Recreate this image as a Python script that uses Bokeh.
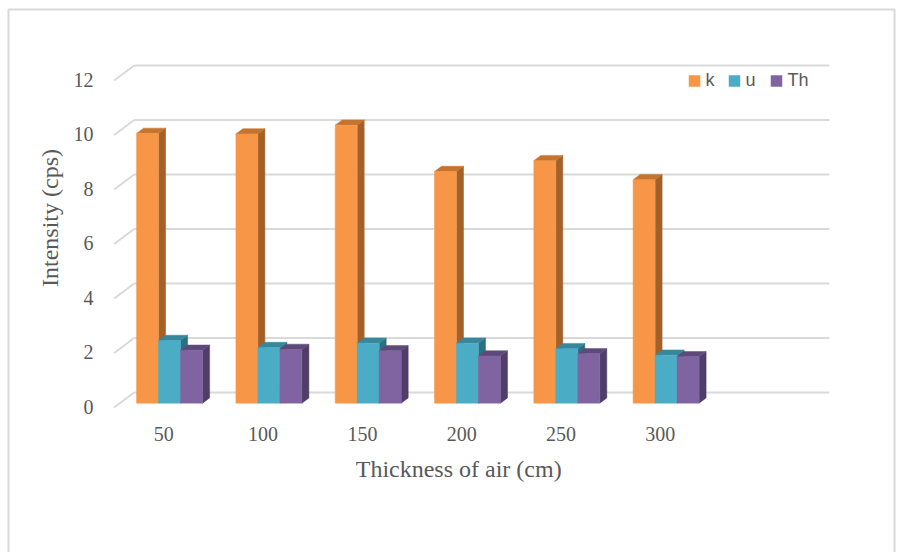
import math
from bokeh.plotting import figure
from bokeh.models import Range1d
from bokeh.embed import file_html
from bokeh.resources import INLINE
from bokeh.core.properties import value

# ---------------- data ----------------
categories = ["50", "100", "150", "200", "250", "300"]
k_vals = [9.9, 9.88, 10.2, 8.5, 8.9, 8.2]
u_vals = [2.3, 2.04, 2.2, 2.2, 2.0, 1.76]
th_vals = [1.94, 1.97, 1.92, 1.73, 1.81, 1.7]
series_names = ["k", "u", "Th"]
y_ticks = [0, 2, 4, 6, 8, 10, 12]
x_title = "Thickness  of air (cm)"
y_title = "Intensity (cps)"
n_slots = 7  # category slots on the floor (the last one is empty)

# ---------------- layout / style ----------------
W, H = 897, 552
PX_X = 99.3     # pixels per category slot
X0_PX = 163.3   # pixel of the first category centre (front plane)
PX_Y = 27.25    # pixels per unit of intensity
Y0_PX = 407.0   # pixel (from top) of zero on the front plane
TXT_SHIFT = 7.5  # text baseline correction (px)

def dx(px):  # horizontal pixel -> data x
    return (px - X0_PX) / PX_X

def dy(py):  # vertical pixel (from top) -> data y
    return (Y0_PX - py) / PX_Y

DEPTH_X = 20 / PX_X
DEPTH_Y = 15 / PX_Y
F0, F1 = 0.29, 0.64         # bar front/back depth fractions
BW = 22 / PX_X              # bar width

fronts = ["#F79646", "#4BACC6", "#8064A2"]
tops = ["#C5742F", "#37879C", "#5E4A7A"]
sides = ["#A2612A", "#2C6F82", "#4F3E68"]
grid_color = "#D9D9D9"
text_color = "#595959"
serif = value("Liberation Serif")
sans = value("Liberation Sans")

p = figure(width=W, height=H, output_backend="svg", toolbar_location=None,
           x_axis_type=None, y_axis_type=None, min_border=0,
           x_range=Range1d(dx(0), dx(W)), y_range=Range1d(dy(H), dy(0)))
p.outline_line_color = None
p.background_fill_color = "white"
p.border_fill_color = "white"

# outer chart border (left, top, right)
p.line([dx(8), dx(8), dx(894), dx(894)], [dy(570), dy(9), dy(9), dy(570)],
       line_color=grid_color, line_width=2)

# back-wall gridlines and left-wall diagonal ticks
left_front = -0.5
right_front = n_slots - 0.5
p.segment(x0=[left_front + DEPTH_X] * len(y_ticks), y0=[t + DEPTH_Y for t in y_ticks],
          x1=[right_front + DEPTH_X] * len(y_ticks), y1=[t + DEPTH_Y for t in y_ticks],
          line_color=grid_color, line_width=2)
p.segment(x0=[left_front] * len(y_ticks), y0=y_ticks,
          x1=[left_front + DEPTH_X] * len(y_ticks), y1=[t + DEPTH_Y for t in y_ticks],
          line_color=grid_color, line_width=2)

# 3-D bars
bdx = (F1 - F0) * DEPTH_X
bdy = (F1 - F0) * DEPTH_Y
for s, vals in enumerate([k_vals, u_vals, th_vals]):
    lefts = [i + (s - 1.5) * BW + F0 * DEPTH_X for i in range(len(vals))]
    rights = [l + BW for l in lefts]
    base = F0 * DEPTH_Y
    topy = [v + base for v in vals]
    side_xs = [[r, r + bdx, r + bdx, r] for r in rights]
    side_ys = [[base, base + bdy, t + bdy, t] for t in topy]
    top_xs = [[l, r, r + bdx, l + bdx] for l, r in zip(lefts, rights)]
    top_ys = [[t, t, t + bdy, t + bdy] for t in topy]
    p.patches(side_xs, side_ys, fill_color=sides[s], line_color=sides[s], line_width=0.5)
    p.patches(top_xs, top_ys, fill_color=tops[s], line_color=tops[s], line_width=0.5)
    p.quad(left=lefts, right=rights, bottom=[base] * len(vals), top=topy,
           fill_color=fronts[s], line_color=fronts[s], line_width=0.5)

# y tick labels
p.text(x=[left_front - 0.208] * len(y_ticks),
       y=[t - (6.7 - TXT_SHIFT) / PX_Y for t in y_ticks],
       text=[str(t) for t in y_ticks], text_align="right", text_baseline="alphabetic",
       text_font=serif, text_font_size="20px", text_color=text_color)

# x tick labels
p.text(x=list(range(len(categories))), y=[dy(441 - TXT_SHIFT)] * len(categories),
       text=categories, text_align="center", text_baseline="alphabetic",
       text_font=serif, text_font_size="20px", text_color=text_color)

# axis titles
p.text(x=[(n_slots - 1) / 2], y=[dy(477 - 9)], text=[x_title], text_align="center",
       text_baseline="alphabetic", text_font=serif, text_font_size="24px",
       text_color=text_color)
p.text(x=[dx(58 - 9)], y=[dy(217.5)], text=[y_title], angle=math.pi / 2,
       text_align="center", text_baseline="alphabetic", text_font=serif,
       text_font_size="24px", text_color=text_color)

# legend
leg_sq_px = [694, 734, 776]
leg_tx_px = [705, 745, 787]
p.scatter(x=[dx(v) for v in leg_sq_px], y=[dy(80.5)] * 3, marker="square", size=11.5,
          fill_color=fronts, line_color=None)
p.text(x=[dx(v) for v in leg_tx_px], y=[dy(85.5 - 6)] * 3, text=series_names,
       text_align="left", text_baseline="alphabetic", text_font=sans,
       text_font_size="18px", text_color=text_color)

open("out.html", "w").write(file_html(p, INLINE))
